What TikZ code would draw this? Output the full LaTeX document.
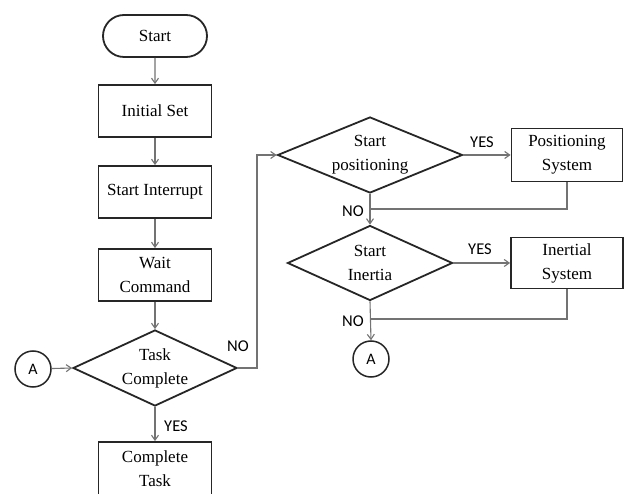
\documentclass[tikz,border=0pt]{standalone}
\usepackage{fontspec}
\setmainfont{Liberation Serif}
\newfontfamily\lblfont{Carlito}
\usetikzlibrary{shapes.geometric,shapes.misc,arrows.meta}
\begin{document}
\begin{tikzpicture}[x=1pt,y=-1pt,
  box/.style={draw=black!85,line width=1.8pt,rectangle,minimum width=113pt,minimum height=52pt,align=center,font=\fontsize{17}{24}\selectfont,inner sep=0pt},
  term/.style={draw=black!85,line width=1.8pt,rounded rectangle,minimum width=104pt,minimum height=42pt,font=\fontsize{17}{24}\selectfont,inner sep=0pt},
  decide/.style={draw=black!85,line width=1.8pt,diamond,align=center,inner sep=0pt,font=\fontsize{17}{24}\selectfont},
  conn/.style={draw=black!85,line width=1.5pt,circle,minimum size=36pt,inner sep=0pt,font=\lblfont\fontsize{16}{18}\selectfont},
  line/.style={draw=black!55,line width=1.1pt},
  arr/.style={line,-{Straight Barb[length=5pt,width=7pt]}},
  lbl/.style={font=\lblfont\fontsize{16.5}{18}\selectfont,inner sep=0pt}
]
\useasboundingbox (0,0) rectangle (629,494);
\fill[white] (0,0) rectangle (629,494);

\node[term] (start) at (155,36) {Start};
\node[box] (init) at (155,111) {Initial Set};
\node[box] (intr) at (155,192) {Start Interrupt};
\node[box] (wait) at (155,275) {Wait\\Command};
\node[decide,minimum width=164pt,minimum height=76pt,shape aspect=2.16] (task) at (155,368) {Task\\Complete};
\node[conn] (a1) at (33,369) {A};
\node[box,minimum height=54pt] (done) at (155,469) {Complete\\Task};

\node[decide,minimum width=185pt,minimum height=76pt,shape aspect=2.43] (spos) at (370,155) {Start\\positioning};
\node[box,minimum width=111pt,minimum height=53pt] (psys) at (567,155) {Positioning\\System};
\node[decide,minimum width=165pt,minimum height=75pt,shape aspect=2.2] (sin) at (370,263) {Start\\Inertia};
\node[box,minimum width=112pt,minimum height=51pt] (isys) at (567,263) {Inertial\\System};
\node[conn] (a2) at (371,359) {A};

\coordinate (nocorner) at (257,368);
\coordinate (j1) at (370,209);
\coordinate (j2) at (370,319);

\draw[arr] (start) -- (init);
\draw[arr] (init) -- (intr);
\draw[arr] (intr) -- (wait);
\draw[arr] (wait) -- (task);
\draw[arr] (a1) -- (task.west);
\draw[arr] (task.south) -- (done.north);
\draw[arr] (task.east) -- (nocorner) |- (spos.west);
\draw[arr] (spos.east) -- (psys.west);
\draw[line] (psys.south) |- (j1);
\draw[arr] (spos.south) -- (sin.north);
\draw[arr] (sin.east) -- (isys.west);
\draw[line] (isys.south) |- (j2);
\draw[arr] (sin.south) -- (a2.north);

\node[lbl] (ltaskno) at (238,346) {NO};
\node[lbl] (ltaskyes) at (176,426) {YES};
\node[lbl] (lposyes) at (482,142) {YES};
\node[lbl] (lposno) at (353,211) {NO};
\node[lbl] (linyes) at (480,249) {YES};
\node[lbl] (linno) at (353,321) {NO};
\end{tikzpicture}
\end{document}
